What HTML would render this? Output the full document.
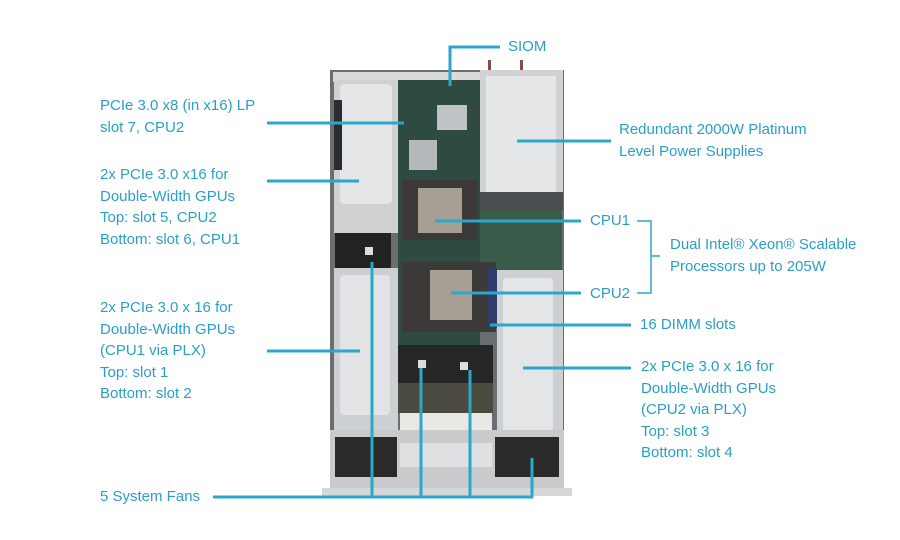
<!DOCTYPE html>
<html><head><meta charset="utf-8"><style>
html,body{margin:0;padding:0;background:#fff;}
body{width:900px;height:540px;position:relative;overflow:hidden;font-family:"Liberation Sans",sans-serif;}
.t{position:absolute;color:#2a9fc6;font-size:15px;line-height:21.5px;white-space:nowrap;}
</style></head><body>
<svg width="900" height="540" style="position:absolute;left:0;top:0">
<!-- chassis -->
<rect x="330" y="70" width="234" height="422" fill="#6b6e70"/>
<rect x="333" y="72" width="228" height="10" fill="#d9dadb"/>
<rect x="488" y="60" width="3" height="14" fill="#8a4a4a"/>
<rect x="520" y="60" width="3" height="14" fill="#8a4a4a"/>
<!-- left riser top -->
<rect x="334" y="80" width="64" height="153" fill="#cfd1d3"/>
<rect x="340" y="84" width="52" height="120" fill="#e4e5e6" rx="4"/>
<rect x="334" y="100" width="8" height="70" fill="#2a2d30"/>
<!-- left fan -->
<rect x="335" y="233" width="56" height="35" fill="#222"/>
<rect x="365" y="247" width="8" height="8" fill="#ddd"/>
<!-- left riser bottom -->
<rect x="334" y="268" width="64" height="162" fill="#cdd0d2"/>
<rect x="340" y="275" width="50" height="140" fill="#e2e3e4" rx="4"/>
<!-- motherboard -->
<rect x="398" y="80" width="82" height="265" fill="#2f4a40"/>
<rect x="480" y="210" width="82" height="60" fill="#3a5a4a"/>
<rect x="437" y="105" width="30" height="25" fill="#bfc3c5"/>
<rect x="409" y="140" width="28" height="30" fill="#b5b9bb"/>
<rect x="402" y="180" width="76" height="60" fill="#3b3a38"/>
<rect x="418" y="188" width="44" height="45" fill="#a89f94"/>
<rect x="402" y="262" width="94" height="70" fill="#3b3a38"/>
<rect x="430" y="270" width="42" height="50" fill="#a89f94"/>
<rect x="487" y="268" width="10" height="60" fill="#2e3d6a"/>
<!-- right PSU -->
<rect x="480" y="70" width="83" height="140" fill="#d0d2d4"/>
<rect x="486" y="76" width="70" height="116" fill="#e6e7e8"/>
<rect x="480" y="192" width="83" height="18" fill="#4a4d50"/>
<!-- right riser lower -->
<rect x="497" y="270" width="66" height="180" fill="#cdd0d2"/>
<rect x="503" y="278" width="50" height="160" fill="#e4e5e6" rx="4"/>
<!-- middle fans -->
<rect x="398" y="345" width="95" height="38" fill="#262626"/>
<rect x="418" y="360" width="8" height="8" fill="#ddd"/>
<rect x="460" y="362" width="8" height="8" fill="#ddd"/>
<rect x="398" y="383" width="95" height="30" fill="#4a4a40"/>
<rect x="400" y="413" width="92" height="30" fill="#e8e8e4"/>
<!-- bottom bar -->
<rect x="330" y="430" width="234" height="58" fill="#c8cacb"/>
<rect x="335" y="437" width="62" height="40" fill="#2a2a2a"/>
<rect x="495" y="437" width="64" height="40" fill="#2a2a2a"/>
<rect x="400" y="443" width="92" height="24" fill="#dfe0e1"/>
<rect x="322" y="488" width="250" height="8" fill="#d6d7d8"/>
<!-- connector lines -->
<g stroke="#2aa7c9" stroke-width="3" fill="none">
<polyline points="450,86 450,47 500,47"/>
<line x1="267" y1="123" x2="404" y2="123"/>
<line x1="267" y1="181" x2="359" y2="181"/>
<line x1="517" y1="141" x2="611" y2="141"/>
<line x1="435" y1="221" x2="581" y2="221"/>
<line x1="451" y1="293" x2="581" y2="293"/>
<line x1="490" y1="325" x2="631" y2="325"/>
<line x1="267" y1="351" x2="360" y2="351"/>
<line x1="523" y1="368" x2="631" y2="368"/>
<polyline points="213,497 532,497 532,458"/>
<line x1="372" y1="262" x2="372" y2="497"/>
<line x1="421" y1="368" x2="421" y2="497"/>
<line x1="470" y1="370" x2="470" y2="497"/>
</g>
<g stroke="#2aa7c9" stroke-width="1.5" fill="none">
<polyline points="637,221 651,221 651,293 637,293"/>
<line x1="651" y1="256" x2="660" y2="256"/>
</g>
</svg>
<div class="t" style="left:508px;top:36px">SIOM</div>
<div class="t" style="left:100px;top:95px">PCIe 3.0 x8 (in x16) LP<br>slot 7, CPU2</div>
<div class="t" style="left:100px;top:164px">2x PCIe 3.0 x16 for<br>Double-Width GPUs<br>Top: slot 5, CPU2<br>Bottom: slot 6, CPU1</div>
<div class="t" style="left:100px;top:297px">2x PCIe 3.0 x 16 for<br>Double-Width GPUs<br>(CPU1 via PLX)<br>Top: slot 1<br>Bottom: slot 2</div>
<div class="t" style="left:100px;top:486px">5 System Fans</div>
<div class="t" style="left:619px;top:119px">Redundant 2000W Platinum<br>Level Power Supplies</div>
<div class="t" style="left:590px;top:210px">CPU1</div>
<div class="t" style="left:590px;top:283px">CPU2</div>
<div class="t" style="left:670px;top:234px">Dual Intel® Xeon® Scalable<br>Processors up to 205W</div>
<div class="t" style="left:640px;top:314px">16 DIMM slots</div>
<div class="t" style="left:641px;top:356px">2x PCIe 3.0 x 16 for<br>Double-Width GPUs<br>(CPU2 via PLX)<br>Top: slot 3<br>Bottom: slot 4</div>
</body></html>
